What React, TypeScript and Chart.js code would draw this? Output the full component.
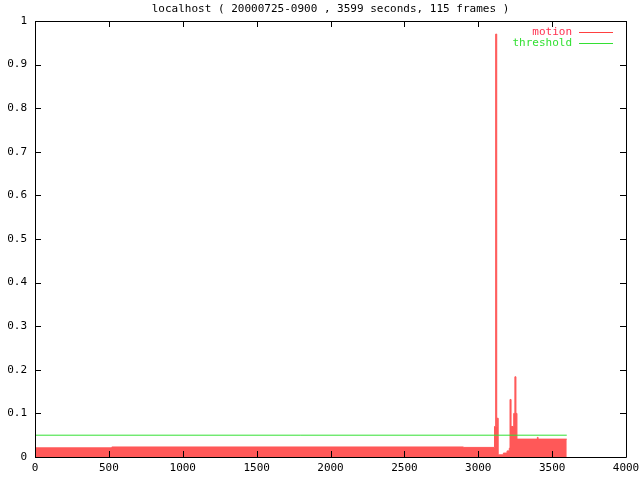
import React, { useEffect, useRef } from "react";
import { Chart, registerables } from "chart.js";

Chart.register(...registerables);

const titleText = "localhost ( 20000725-0900 , 3599 seconds, 115 frames )";
const motionSeconds = [0, 520, 2900, 3110, 3118, 3125, 3128, 3135, 3170, 3195, 3210, 3215, 3222, 3240, 3248, 3255, 3262, 3400, 3405, 3599];
const motionValues = [0.021, 0.023, 0.022, 0.07, 0.97, 0.07, 0.089, 0.005, 0.009, 0.014, 0.02, 0.132, 0.07, 0.1, 0.184, 0.1, 0.041, 0.045, 0.041, 0.041];
const thresholdSeconds = [0, 3599];
const thresholdValues = [0.05, 0.05];
const xTickStep = 500;
const yTickStep = 0.1;
const seriesLabels = ["motion", "threshold"];

const MOTION_FILL = "#ff5858";
const MOTION_TEXT = "#ff3050";
const THRESH_COLOR = "#33e033";
const FONT = "DejaVu Sans Mono";

const framePlugin = {
  id: "gnuplotFrame",
  afterDraw(chart: any) {
    const { ctx, chartArea } = chart;
    const { left, right, top, bottom } = chartArea;
    const xs = chart.scales.x;
    const ys = chart.scales.y;
    ctx.save();
    ctx.strokeStyle = "#000";
    ctx.lineWidth = 1;
    ctx.beginPath();
    ctx.rect(Math.round(left) + 0.5, Math.round(top) + 0.5, Math.round(right - left), Math.round(bottom - top));
    ctx.stroke();
    ctx.beginPath();
    xs.ticks.forEach((t: any) => {
      const px = Math.round(xs.getPixelForValue(t.value)) + 0.5;
      ctx.moveTo(px, bottom);
      ctx.lineTo(px, bottom - 6);
      ctx.moveTo(px, top);
      ctx.lineTo(px, top + 6);
    });
    ys.ticks.forEach((t: any) => {
      const py = Math.round(ys.getPixelForValue(t.value)) + 0.5;
      ctx.moveTo(left, py);
      ctx.lineTo(left + 6, py);
      ctx.moveTo(right, py);
      ctx.lineTo(right - 6, py);
    });
    ctx.stroke();

    ctx.font = `11px "${FONT}"`;
    ctx.fillStyle = "#000";
    ctx.textAlign = "center";
    ctx.textBaseline = "middle";
    ctx.fillText(titleText, (left + right) / 2, 9);

    const entries = [
      { label: seriesLabels[0], text: MOTION_TEXT, line: "#ff4040", y: 32 },
      { label: seriesLabels[1], text: THRESH_COLOR, line: THRESH_COLOR, y: 43 },
    ];
    ctx.textAlign = "right";
    entries.forEach((e) => {
      ctx.fillStyle = e.text;
      ctx.fillText(e.label, 572, e.y);
      ctx.strokeStyle = e.line;
      ctx.beginPath();
      ctx.moveTo(579, e.y + 0.5);
      ctx.lineTo(613, e.y + 0.5);
      ctx.stroke();
    });
    ctx.restore();
  },
};

export default function App() {
  const canvasRef = useRef<HTMLCanvasElement | null>(null);

  useEffect(() => {
    const canvas = canvasRef.current;
    if (!canvas) return;
    const motion = motionSeconds.map((s, i) => ({ x: s, y: motionValues[i] }));
    const threshold = thresholdSeconds.map((s, i) => ({ x: s, y: thresholdValues[i] }));
    const chart = new Chart(canvas, {
      type: "line",
      data: {
        datasets: [
          {
            label: seriesLabels[0],
            data: motion,
            stepped: true,
            fill: "origin",
            backgroundColor: MOTION_FILL,
            borderColor: MOTION_FILL,
            borderWidth: 1,
            pointRadius: 0,
            order: 2,
          },
          {
            label: seriesLabels[1],
            data: threshold,
            fill: false,
            borderColor: THRESH_COLOR,
            borderWidth: 1,
            pointRadius: 0,
            order: 1,
          },
        ],
      },
      options: {
        animation: false,
        responsive: false,
        devicePixelRatio: 1,
        layout: { padding: { top: 21, right: 14, left: 0, bottom: 0 } },
        plugins: {
          legend: { display: false },
          title: { display: false },
          tooltip: { enabled: false },
        },
        scales: {
          x: {
            type: "linear",
            min: 0,
            max: 4000,
            grid: { display: false, drawTicks: false },
            border: { display: false },
            ticks: {
              stepSize: xTickStep,
              padding: 5,
              maxRotation: 0,
              color: "#000",
              font: { family: FONT, size: 11 },
              callback: (v: any) => String(Math.round(Number(v))),
            },
            afterFit: (scale: any) => {
              scale.height = 23;
              scale.paddingLeft = 0;
              scale.paddingRight = 0;
            },
          },
          y: {
            type: "linear",
            min: 0,
            max: 1,
            grid: { display: false, drawTicks: false },
            border: { display: false },
            ticks: {
              stepSize: yTickStep,
              padding: 8,
              color: "#000",
              font: { family: FONT, size: 11 },
              callback: (v: any) => String(Number(Number(v).toFixed(1))),
            },
            afterFit: (scale: any) => {
              scale.width = 35;
              scale.paddingTop = 0;
              scale.paddingBottom = 0;
            },
          },
        },
      },
      plugins: [framePlugin],
    });
    return () => chart.destroy();
  }, []);

  return (
    <div style={{ position: "absolute", left: 0, top: 0, width: 640, height: 480, background: "#fff" }}>
      <canvas ref={canvasRef} width={640} height={480} />
    </div>
  );
}
